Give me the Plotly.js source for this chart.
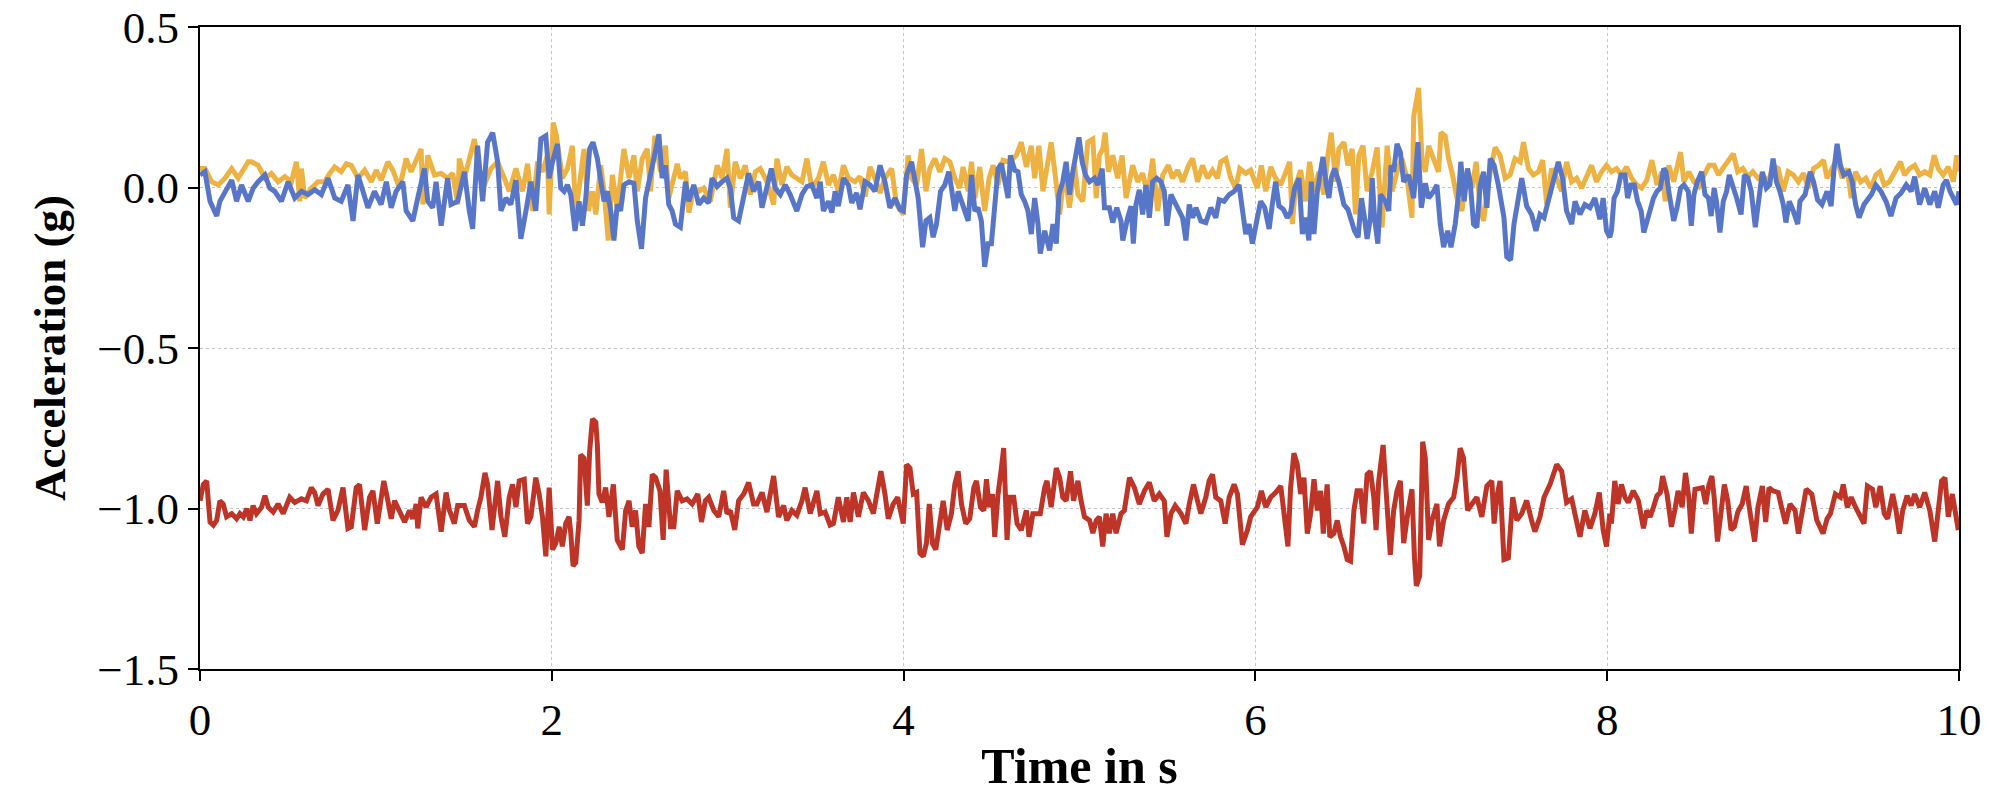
<!DOCTYPE html>
<html>
<head>
<meta charset="utf-8">
<script src="https://cdn.plot.ly/plotly-3.0.1.min.js"></script>
<style>
  html, body { margin: 0; padding: 0; background: #fff; }
  #chart { width: 2000px; height: 800px; }
</style>
</head>
<body>
<div id="chart"></div>
<script>
// acceleration samples, time in s, acceleration in g

// orange trace
let tY = [
  0.000,0.028,0.066,0.104,0.142,0.180,0.217,0.274,0.293,0.331,0.369,0.406,0.444,0.482,0.520,0.548,0.567,0.577,0.595,0.633,0.671,0.709,0.737,0.766,0.803,0.832,0.860,0.898,0.936,0.974,1.002,1.030,1.068,1.096,1.134,1.172,1.200,1.229,1.257,1.267,1.295,1.333,1.371,1.408,1.437,1.465,1.474,1.503,1.560,1.588,1.616,1.654,1.692,1.730,1.758,1.796,1.834,1.862,1.890,1.919,1.947,1.975,
  1.985,2.008,2.026,2.060,2.089,2.117,2.136,2.155,2.183,2.208,2.231,2.250,2.278,2.297,2.321,2.344,2.372,2.410,2.439,2.467,2.486,2.514,2.543,2.561,2.586,2.618,2.646,2.665,2.694,2.713,2.731,2.760,2.779,2.807,2.836,2.864,2.902,2.940,2.968,2.996,3.015,3.043,3.072,3.100,3.129,3.157,3.185,3.223,3.261,3.280,3.308,3.336,3.365,3.393,3.422,3.450,3.478,3.516,3.544,3.573,3.601,3.629,3.658,3.686,3.724,3.752,3.781,3.809,3.837,3.866,3.894,3.932,3.960,
  3.998,4.026,4.045,4.074,4.102,4.127,4.149,4.178,4.206,4.234,4.263,4.291,4.319,4.338,4.367,4.386,4.405,4.433,4.461,4.486,4.509,4.537,4.565,4.603,4.641,4.669,4.698,4.726,4.745,4.769,4.792,4.811,4.839,4.864,4.887,4.915,4.943,4.972,4.991,5.019,5.047,5.076,5.095,5.113,5.132,5.146,5.164,5.189,5.217,5.242,5.265,5.302,5.331,5.359,5.388,5.416,5.444,5.473,5.505,5.529,5.558,5.586,5.620,5.643,5.671,5.699,5.728,5.756,5.784,5.803,5.832,5.860,5.888,5.911,5.945,5.973,
  6.011,6.034,6.059,6.087,6.115,6.144,6.172,6.195,6.210,6.229,6.257,6.285,6.308,6.333,6.361,6.389,6.412,6.431,6.456,6.474,6.503,6.526,6.550,6.569,6.588,6.612,6.635,6.664,6.692,6.720,6.749,6.777,6.805,6.833,6.862,6.890,6.900,6.919,6.928,6.947,6.966,6.985,7.013,7.041,7.055,7.079,7.098,7.117,7.146,7.174,7.202,7.231,7.255,7.278,7.297,7.316,7.335,7.363,7.391,7.420,7.448,7.476,7.505,7.524,7.552,7.580,7.609,7.633,7.656,7.684,7.713,7.741,7.769,7.798,7.826,7.854,7.883,7.911,7.939,7.968,7.996,
  8.024,8.053,8.081,8.110,8.139,8.168,8.196,8.225,8.254,8.283,8.311,8.330,8.350,8.378,8.397,8.417,8.436,8.464,8.493,8.522,8.551,8.579,8.608,8.633,8.656,8.685,8.717,8.742,8.771,8.800,8.828,8.857,8.886,8.914,8.943,8.972,9.001,9.029,9.058,9.087,9.116,9.144,9.173,9.202,9.230,9.250,9.278,9.307,9.336,9.365,9.387,9.412,9.441,9.470,9.499,9.527,9.550,9.575,9.604,9.633,9.667,9.690,9.719,9.748,9.776,9.805,9.834,9.859,9.882,9.910,9.939,9.968,9.987,10.0
];
let accY = [
  0.059,0.059,0.018,0.008,0.029,0.059,0.029,0.080,0.080,0.069,0.029,0.044,0.018,0.034,0.018,0.080,-0.043,0.059,-0.033,-0.002,0.018,0.018,0.044,0.064,0.049,0.074,0.069,0.029,0.054,0.018,0.054,0.023,0.080,0.054,-0.002,0.090,0.049,0.085,0.120,-0.053,0.100,0.039,0.044,0.029,0.044,-0.053,0.090,0.029,0.151,0.054,0.008,0.059,0.080,0.029,-0.012,0.059,-0.012,0.074,-0.073,0.080,0.049,0.100,
  -0.084,0.202,0.161,0.029,0.059,0.130,-0.073,-0.002,0.120,-0.073,-0.012,-0.084,0.069,-0.012,-0.165,0.039,-0.063,0.120,0.029,0.100,-0.012,0.090,0.120,-0.012,0.161,0.049,0.130,-0.033,0.029,0.074,0.029,0.049,-0.078,-0.002,-0.012,-0.002,-0.043,0.069,0.029,0.120,-0.063,0.080,0.029,0.069,-0.022,0.049,0.059,0.018,-0.053,0.090,0.008,0.064,0.039,0.029,0.018,0.090,-0.002,0.029,0.080,0.008,0.039,-0.012,0.069,0.029,0.018,0.034,-0.028,0.064,0.029,-0.017,0.029,0.059,-0.053,
  -0.084,0.100,0.029,0.008,0.120,-0.012,0.059,0.090,0.049,0.090,0.080,0.029,-0.002,0.064,-0.012,0.080,-0.033,0.064,-0.073,0.029,0.069,0.008,0.085,0.080,0.100,0.141,0.064,0.130,0.029,0.130,-0.012,0.059,0.141,0.029,-0.084,0.049,-0.063,0.069,-0.022,-0.043,0.141,0.151,-0.033,0.100,0.120,0.171,0.049,0.100,0.029,0.100,-0.033,0.069,0.018,0.044,-0.022,0.090,-0.073,0.039,0.069,0.029,0.054,0.018,0.069,0.090,0.018,0.069,0.029,0.054,0.029,0.080,0.090,0.029,-0.002,0.059,0.044,0.054,
  -0.002,0.069,-0.012,0.064,0.029,0.008,0.049,0.080,-0.114,0.008,0.054,-0.043,0.080,-0.012,0.049,-0.022,0.100,0.171,0.018,0.120,0.141,0.069,0.120,-0.084,0.100,0.130,-0.012,0.049,0.125,-0.124,0.130,-0.012,0.049,0.090,0.029,-0.094,0.222,0.273,0.310,0.090,0.049,0.130,0.090,0.049,0.171,0.161,0.090,0.049,-0.033,-0.073,0.049,-0.002,0.080,-0.063,-0.104,-0.012,0.049,0.125,0.100,0.029,0.039,0.090,0.080,0.141,0.059,0.039,0.049,0.085,-0.053,0.059,0.029,-0.012,0.080,0.018,0.029,-0.002,0.039,0.069,0.018,0.049,0.069,
  0.049,0.059,0.039,0.064,0.029,0.008,-0.002,0.023,0.085,0.008,0.049,-0.043,0.069,0.018,0.069,0.110,0.018,0.049,0.018,0.003,0.039,0.069,0.069,0.039,0.059,0.080,0.105,0.049,0.059,0.034,0.049,0.029,0.039,0.013,0.069,0.059,-0.012,0.049,0.039,0.018,0.044,-0.002,0.059,0.069,0.085,0.029,0.059,0.090,0.029,0.059,-0.033,0.049,0.018,0.029,-0.002,0.039,0.049,0.008,0.018,0.049,0.080,0.039,0.059,0.069,0.039,0.049,0.039,0.100,0.059,0.039,0.064,0.018,0.100,0.050
];

// blue trace
let tX = [
  0.000,0.028,0.057,0.085,0.095,0.113,0.142,0.180,0.208,0.236,0.274,0.302,0.331,0.369,0.397,0.425,0.463,0.501,0.539,0.577,0.614,0.652,0.690,0.728,0.766,0.803,0.841,0.870,0.898,0.926,0.955,0.992,1.030,1.059,1.087,1.115,1.153,1.172,1.210,1.238,1.276,1.295,1.323,1.342,1.371,1.408,1.427,1.465,1.503,1.531,1.550,1.578,1.607,1.635,1.664,1.692,1.711,1.739,1.767,1.796,1.824,1.853,1.881,1.909,1.938,1.966,
  1.985,2.004,2.032,2.051,2.070,2.089,2.108,2.132,2.155,2.174,2.193,2.215,2.234,2.259,2.278,2.297,2.316,2.335,2.353,2.372,2.391,2.410,2.439,2.467,2.486,2.510,2.533,2.561,2.590,2.609,2.627,2.646,2.665,2.684,2.703,2.731,2.760,2.779,2.807,2.836,2.864,2.892,2.911,2.940,2.968,2.996,3.015,3.034,3.062,3.091,3.119,3.147,3.176,3.195,3.223,3.248,3.270,3.299,3.327,3.355,3.393,3.422,3.450,3.478,3.507,3.526,3.544,3.573,3.592,3.611,3.629,3.658,3.686,3.705,3.733,3.752,3.781,3.809,3.837,3.866,3.894,3.922,3.951,3.979,
  3.998,4.017,4.045,4.064,4.083,4.108,4.127,4.149,4.168,4.187,4.210,4.234,4.257,4.272,4.291,4.310,4.329,4.348,4.367,4.386,4.405,4.423,4.442,4.461,4.480,4.499,4.518,4.537,4.556,4.575,4.594,4.607,4.631,4.650,4.669,4.688,4.707,4.726,4.745,4.764,4.777,4.802,4.830,4.849,4.868,4.883,4.905,4.924,4.943,4.962,4.981,4.997,5.015,5.034,5.057,5.085,5.104,5.129,5.142,5.170,5.189,5.212,5.236,5.246,5.274,5.293,5.306,5.321,5.340,5.359,5.378,5.397,5.416,5.439,5.463,5.482,5.497,5.520,5.539,5.567,5.586,5.605,5.624,5.643,5.662,5.690,5.718,5.747,5.775,5.794,5.822,5.851,5.879,5.907,5.926,5.945,5.964,5.983,
  6.011,6.030,6.053,6.078,6.096,6.115,6.134,6.159,6.181,6.200,6.223,6.248,6.267,6.285,6.304,6.318,6.333,6.352,6.367,6.384,6.403,6.418,6.431,6.450,6.474,6.503,6.526,6.544,6.563,6.584,6.603,6.620,6.635,6.654,6.664,6.677,6.696,6.711,6.739,6.758,6.771,6.786,6.805,6.824,6.843,6.871,6.900,6.924,6.943,6.966,6.985,7.013,7.032,7.051,7.070,7.093,7.112,7.136,7.155,7.168,7.187,7.206,7.221,7.240,7.259,7.278,7.297,7.316,7.335,7.357,7.381,7.413,7.429,7.451,7.470,7.489,7.514,7.542,7.570,7.595,7.618,7.641,7.675,7.703,7.722,7.746,7.769,7.798,7.817,7.845,7.873,7.902,7.930,7.958,7.977,7.996,8.015,
  8.024,8.039,8.058,8.078,8.101,8.116,8.135,8.154,8.173,8.193,8.208,8.227,8.244,8.263,8.283,8.302,8.321,8.334,8.353,8.378,8.397,8.417,8.436,8.461,8.478,8.493,8.512,8.537,8.556,8.576,8.591,8.608,8.621,8.641,8.660,8.679,8.694,8.713,8.736,8.761,8.780,8.800,8.819,8.842,8.861,8.882,8.905,8.924,8.943,8.962,8.982,9.001,9.016,9.035,9.058,9.083,9.096,9.125,9.154,9.173,9.196,9.221,9.250,9.273,9.288,9.307,9.326,9.345,9.374,9.393,9.412,9.432,9.460,9.483,9.502,9.527,9.556,9.585,9.613,9.642,9.671,9.700,9.728,9.748,9.776,9.805,9.834,9.862,9.882,9.910,9.929,9.949,9.968,9.987,10.0
];
let accX = [
  0.039,0.049,-0.043,-0.073,-0.089,-0.043,-0.012,0.023,-0.043,0.008,-0.043,-0.002,0.018,0.039,-0.002,-0.012,-0.043,0.018,-0.033,-0.012,-0.022,-0.007,-0.022,0.029,-0.033,-0.043,0.008,-0.104,0.039,-0.012,-0.063,-0.012,-0.053,0.018,-0.063,-0.012,0.018,-0.073,-0.104,-0.033,0.059,-0.043,-0.063,0.018,-0.119,0.029,-0.053,-0.043,0.049,-0.073,-0.129,0.130,-0.043,0.141,0.171,0.080,-0.073,-0.033,-0.053,0.023,-0.160,-0.073,0.018,-0.073,0.151,0.161,
  0.029,0.080,0.136,-0.002,-0.012,0.008,-0.022,-0.135,-0.043,-0.119,-0.033,0.120,0.141,0.090,0.018,-0.043,-0.012,-0.073,-0.165,-0.053,-0.073,0.008,0.018,0.013,-0.104,-0.191,-0.033,0.039,0.110,0.166,0.029,0.069,-0.053,-0.073,-0.114,-0.124,0.018,-0.043,0.008,-0.053,-0.033,-0.048,0.029,0.003,0.018,0.029,-0.002,-0.094,-0.104,-0.022,0.044,-0.012,0.018,-0.063,0.008,0.059,-0.002,-0.022,0.008,-0.022,-0.073,-0.022,0.003,0.008,-0.033,0.018,-0.073,-0.043,-0.078,-0.012,-0.058,0.029,0.008,-0.048,-0.017,-0.068,0.018,0.008,-0.012,0.069,0.018,-0.063,-0.033,-0.068,
  -0.073,0.039,0.080,0.029,-0.033,-0.186,-0.104,-0.094,-0.155,-0.114,-0.012,0.008,0.049,-0.002,-0.073,-0.012,-0.043,-0.073,-0.104,0.039,-0.073,-0.063,-0.104,-0.247,-0.175,-0.175,-0.033,0.059,0.074,0.029,-0.033,0.100,0.054,0.049,-0.022,-0.043,-0.073,-0.145,-0.033,-0.114,-0.206,-0.135,-0.196,-0.114,-0.175,-0.022,0.018,0.080,-0.022,0.049,0.110,0.156,0.080,0.039,0.018,0.029,0.008,0.059,-0.063,-0.063,-0.109,-0.063,-0.104,-0.165,-0.094,-0.058,-0.175,-0.053,-0.007,-0.084,0.008,-0.094,0.018,0.029,0.018,-0.012,-0.119,-0.022,-0.043,-0.073,-0.094,-0.165,-0.053,-0.094,-0.063,-0.104,-0.109,-0.063,-0.094,-0.038,-0.043,-0.022,-0.012,0.008,-0.073,-0.145,-0.114,-0.175,
  -0.094,-0.043,-0.063,-0.129,-0.053,0.018,-0.058,-0.068,-0.094,-0.078,-0.002,0.029,-0.145,-0.094,-0.165,0.018,-0.145,-0.012,0.039,0.095,0.008,-0.033,0.029,0.059,0.018,-0.053,-0.068,-0.104,-0.135,-0.155,-0.033,-0.094,-0.160,-0.094,0.029,-0.094,-0.175,-0.022,-0.043,-0.073,0.069,0.049,0.136,0.110,0.018,0.039,-0.033,0.141,-0.063,0.013,-0.033,-0.012,0.008,-0.114,-0.186,-0.135,-0.186,-0.114,-0.022,0.080,-0.043,0.059,0.018,-0.114,-0.124,0.008,0.049,-0.063,0.090,0.069,0.008,-0.094,-0.216,-0.226,-0.114,-0.053,0.029,-0.058,-0.084,-0.135,-0.084,-0.094,-0.012,0.039,0.080,0.029,-0.073,-0.114,-0.043,-0.084,-0.053,-0.063,-0.033,-0.099,-0.033,-0.135,-0.155,
  -0.135,-0.033,-0.012,0.039,0.039,-0.033,0.008,0.008,-0.043,-0.073,-0.140,-0.104,-0.063,-0.033,-0.012,-0.002,0.059,0.049,-0.022,-0.104,-0.063,-0.002,0.008,-0.012,-0.119,-0.022,0.018,0.049,-0.022,-0.033,-0.089,-0.002,-0.043,-0.140,-0.043,-0.012,0.039,0.008,-0.033,-0.084,0.039,0.029,-0.012,-0.124,-0.033,0.049,-0.002,0.008,0.090,0.018,-0.012,-0.053,-0.109,-0.043,-0.073,-0.114,-0.043,-0.022,0.049,0.018,-0.038,-0.053,-0.012,-0.058,0.049,0.136,0.069,0.039,0.049,0.018,-0.053,-0.094,-0.053,-0.033,-0.022,0.008,-0.012,-0.043,-0.089,-0.033,-0.017,0.008,-0.012,0.034,-0.053,-0.002,-0.053,-0.012,-0.063,0.008,0.023,-0.012,-0.033,-0.053,-0.012
];

// red trace (around -1 g)
let tZ = [
  0.000,0.019,0.038,0.057,0.076,0.095,0.113,0.132,0.151,0.180,0.208,0.227,0.246,0.265,0.284,0.302,0.321,0.350,0.369,0.388,0.416,0.444,0.473,0.510,0.539,0.577,0.605,0.633,0.652,0.671,0.699,0.728,0.756,0.784,0.813,0.841,0.860,0.888,0.907,0.936,0.964,0.983,1.008,1.030,1.045,1.068,1.087,1.106,1.134,1.163,1.191,1.210,1.229,1.238,1.257,1.285,1.314,1.342,1.371,1.399,1.418,1.446,1.465,1.503,1.531,1.560,1.578,1.597,1.620,1.635,1.660,1.692,1.711,1.733,1.758,1.777,1.796,1.815,1.843,1.862,1.881,1.909,1.928,1.947,1.966,
  1.985,2.004,2.023,2.042,2.060,2.079,2.098,2.108,2.121,2.136,2.155,2.164,2.183,2.202,2.215,2.231,2.250,2.259,2.268,2.287,2.306,2.325,2.350,2.372,2.401,2.420,2.439,2.457,2.476,2.495,2.514,2.533,2.552,2.571,2.590,2.615,2.633,2.650,2.675,2.694,2.713,2.741,2.769,2.798,2.830,2.851,2.873,2.892,2.921,2.949,2.977,2.996,3.015,3.040,3.062,3.091,3.119,3.147,3.166,3.195,3.223,3.261,3.289,3.318,3.336,3.365,3.393,3.422,3.440,3.469,3.507,3.526,3.554,3.582,3.601,3.629,3.658,3.677,3.696,3.715,3.743,3.771,3.800,3.828,3.847,3.871,3.894,3.913,3.941,3.966,
  3.998,4.017,4.036,4.055,4.074,4.093,4.112,4.130,4.146,4.164,4.183,4.202,4.225,4.248,4.272,4.291,4.310,4.329,4.353,4.376,4.399,4.414,4.437,4.456,4.471,4.486,4.505,4.518,4.537,4.556,4.569,4.588,4.603,4.626,4.645,4.669,4.698,4.713,4.735,4.754,4.777,4.802,4.815,4.839,4.868,4.887,4.905,4.924,4.949,4.966,4.991,5.009,5.028,5.057,5.076,5.095,5.113,5.132,5.151,5.170,5.189,5.208,5.236,5.255,5.284,5.312,5.340,5.369,5.397,5.425,5.454,5.482,5.497,5.520,5.544,5.577,5.605,5.624,5.648,5.671,5.690,5.718,5.737,5.756,5.775,5.803,5.828,5.851,5.879,5.898,5.926,5.955,5.973,
  6.011,6.034,6.059,6.087,6.115,6.144,6.163,6.185,6.200,6.219,6.238,6.257,6.276,6.295,6.314,6.333,6.352,6.371,6.386,6.408,6.423,6.446,6.465,6.484,6.503,6.522,6.541,6.560,6.578,6.597,6.616,6.635,6.654,6.673,6.686,6.701,6.726,6.739,6.752,6.767,6.786,6.805,6.824,6.843,6.866,6.890,6.904,6.915,6.934,6.951,6.966,6.985,7.004,7.032,7.047,7.070,7.098,7.127,7.146,7.164,7.183,7.206,7.231,7.259,7.287,7.316,7.344,7.357,7.372,7.391,7.413,7.438,7.463,7.486,7.514,7.542,7.570,7.589,7.618,7.641,7.675,7.713,7.741,7.769,7.798,7.826,7.845,7.873,7.902,7.930,7.955,7.977,7.996,8.015,
  8.024,8.043,8.062,8.081,8.101,8.120,8.148,8.177,8.206,8.225,8.244,8.263,8.283,8.302,8.315,8.340,8.365,8.384,8.403,8.426,8.445,8.464,8.478,8.499,8.522,8.541,8.560,8.579,8.595,8.608,8.627,8.646,8.666,8.685,8.704,8.723,8.742,8.767,8.790,8.813,8.838,8.857,8.882,8.901,8.920,8.943,8.972,8.991,9.014,9.039,9.068,9.087,9.106,9.131,9.163,9.192,9.227,9.250,9.269,9.297,9.326,9.342,9.365,9.387,9.412,9.441,9.460,9.479,9.508,9.527,9.552,9.575,9.594,9.623,9.642,9.661,9.680,9.705,9.728,9.748,9.776,9.805,9.834,9.862,9.882,9.901,9.920,9.939,9.962,9.981,9.996
];
let accZ = [
  -0.976,-0.925,-0.914,-1.042,-1.052,-1.037,-0.976,-0.986,-1.026,-1.016,-1.032,-1.016,-1.026,-1.001,-1.037,-0.991,-1.016,-0.996,-0.960,-0.996,-1.011,-0.986,-1.016,-0.965,-0.981,-0.970,-0.976,-0.935,-0.950,-0.991,-0.955,-0.940,-1.037,-1.006,-0.935,-1.062,-1.057,-0.935,-0.925,-1.067,-0.965,-0.945,-1.047,-0.955,-0.914,-0.976,-1.032,-0.976,-1.011,-1.042,-1.006,-1.032,-0.986,-1.062,-0.965,-0.996,-0.965,-0.955,-1.072,-0.950,-1.006,-1.047,-0.991,-0.991,-1.037,-1.057,-1.006,-0.965,-0.889,-0.925,-1.067,-0.914,-1.026,-1.088,-0.965,-0.925,-0.996,-0.914,-0.909,-1.047,-1.026,-0.904,-0.955,-1.026,-1.149,
  -0.935,-1.128,-1.108,-1.057,-1.118,-1.047,-1.026,-1.077,-1.179,-1.169,-1.037,-0.833,-0.843,-0.991,-0.823,-0.721,-0.731,-0.802,-0.955,-0.981,-0.935,-1.026,-0.925,-1.098,-1.128,-1.006,-0.976,-1.057,-1.006,-1.118,-1.139,-0.986,-1.057,-0.894,-0.904,-0.945,-1.098,-0.879,-1.057,-1.057,-0.945,-0.976,-0.970,-0.986,-0.955,-1.042,-0.976,-0.965,-1.006,-1.026,-0.945,-1.016,-1.006,-1.067,-0.976,-0.955,-0.919,-0.986,-0.986,-0.950,-1.011,-0.899,-1.026,-0.991,-1.037,-1.006,-1.021,-0.976,-0.935,-1.016,-0.945,-1.016,-1.011,-1.052,-1.047,-0.965,-1.042,-0.965,-1.042,-0.950,-1.026,-0.950,-0.976,-1.016,-0.965,-0.884,-0.955,-1.032,-0.986,-0.965,
  -1.047,-0.863,-0.874,-0.955,-0.950,-1.139,-1.149,-1.108,-0.986,-1.108,-1.128,-1.047,-0.976,-1.067,-1.016,-0.925,-0.884,-0.986,-1.047,-1.032,-0.935,-0.914,-0.996,-1.006,-0.909,-0.996,-0.955,-1.088,-0.955,-0.874,-0.812,-1.098,-0.965,-0.965,-1.047,-1.067,-1.006,-1.088,-1.016,-1.016,-1.016,-0.935,-0.914,-0.996,-0.874,-0.904,-0.965,-0.976,-0.884,-0.976,-0.914,-0.976,-1.026,-1.037,-1.077,-1.037,-1.026,-1.118,-1.016,-1.077,-1.016,-1.077,-1.016,-1.006,-0.904,-0.935,-0.986,-0.945,-0.919,-0.976,-0.955,-0.976,-1.088,-1.016,-0.991,-1.016,-1.047,-0.986,-0.925,-0.976,-1.016,-0.965,-0.914,-0.894,-0.965,-0.976,-1.047,-0.965,-0.925,-0.955,-1.113,-1.067,-1.026,
  -0.996,-0.945,-0.996,-0.965,-0.950,-0.930,-1.016,-1.118,-0.935,-0.828,-0.863,-0.955,-0.904,-1.078,-1.016,-0.909,-1.006,-0.945,-1.078,-0.925,-1.088,-1.078,-1.037,-1.088,-1.118,-1.159,-1.164,-1.006,-0.945,-0.945,-1.047,-0.894,-0.884,-0.965,-1.067,-0.914,-0.802,-0.914,-1.016,-1.144,-1.006,-0.945,-0.914,-1.108,-1.016,-0.940,-1.149,-1.241,-1.210,-0.792,-0.843,-1.098,-1.037,-0.986,-1.118,-1.037,-0.986,-0.965,-0.904,-0.812,-0.843,-1.006,-0.986,-0.965,-1.026,-0.930,-0.914,-1.047,-0.965,-0.914,-1.159,-1.154,-0.965,-1.037,-1.016,-0.975,-1.037,-1.072,-1.026,-0.965,-0.925,-0.863,-0.884,-0.981,-0.970,-1.037,-1.088,-1.006,-1.062,-1.016,-0.950,-1.067,-1.118,-1.016,
  -1.047,-0.914,-0.986,-0.925,-0.965,-0.981,-0.945,-0.975,-1.062,-1.006,-1.026,-0.996,-0.960,-0.950,-0.899,-0.955,-1.057,-1.006,-0.945,-0.996,-0.889,-0.965,-1.078,-0.940,-0.935,-0.935,-0.986,-0.925,-0.899,-0.965,-1.103,-1.016,-0.925,-0.975,-1.067,-1.057,-1.011,-0.986,-0.930,-1.016,-1.103,-0.996,-0.930,-1.042,-0.935,-0.945,-0.950,-0.996,-1.047,-0.986,-1.006,-1.078,-1.026,-0.940,-0.955,-1.037,-1.078,-1.032,-1.016,-0.955,-0.965,-0.925,-0.996,-0.965,-0.996,-1.026,-1.047,-0.930,-0.940,-0.996,-0.930,-1.016,-1.032,-0.955,-1.006,-1.078,-1.006,-0.960,-0.991,-0.955,-0.996,-0.950,-1.006,-1.103,-0.996,-0.914,-0.904,-1.026,-0.955,-1.016,-1.067
];

let xTicks = [0, 2, 4, 6, 8, 10];
let yTicks = [0.5, 0.0, -0.5, -1.0, -1.5];

let serif = 'Liberation Serif, DejaVu Serif, serif';

let traceY = {x: tY, y: accY, type: 'scatter', mode: 'lines', line: {color: 'rgb(238,178,66)', width: 5}, name: 'y'};
let traceX = {x: tX, y: accX, type: 'scatter', mode: 'lines', line: {color: 'rgb(88,118,200)', width: 5}, name: 'x'};
let traceZ = {x: tZ, y: accZ, type: 'scatter', mode: 'lines', line: {color: 'rgb(190,52,38)', width: 5}, name: 'z'};

let axisStyle = {
    showline: true, linecolor: 'black', linewidth: 2, mirror: true,
    ticks: 'outside', ticklen: 10, tickwidth: 2, tickcolor: 'black',
    showgrid: true, gridcolor: '#c4c4c4', gridwidth: 1, griddash: 'dot',
    zeroline: false, ticklabeloverflow: 'allow',
    tickfont: {family: serif, size: 45, color: 'black'}
};

let layout = {
    width: 2000, height: 800,
    margin: {l: 200, r: 41, t: 27, b: 131},
    paper_bgcolor: 'white', plot_bgcolor: 'white',
    showlegend: false,
    xaxis: Object.assign({}, axisStyle, {
        range: [0, 10], tickvals: xTicks,
        title: {text: '<b>Time in s</b>', font: {family: serif, size: 50, color: 'black'}, standoff: 4}
    }),
    yaxis: Object.assign({}, axisStyle, {
        range: [-1.5, 0.5], tickvals: yTicks, tickformat: '.1f',
        title: {text: '<b>Acceleration (g)</b>', font: {family: serif, size: 45, color: 'black'}, standoff: 18}
    })
};

let drawGraph = document.getElementById('chart');
Plotly.newPlot(drawGraph, [traceY, traceX, traceZ], layout, {staticPlot: true});
</script>
</body>
</html>
